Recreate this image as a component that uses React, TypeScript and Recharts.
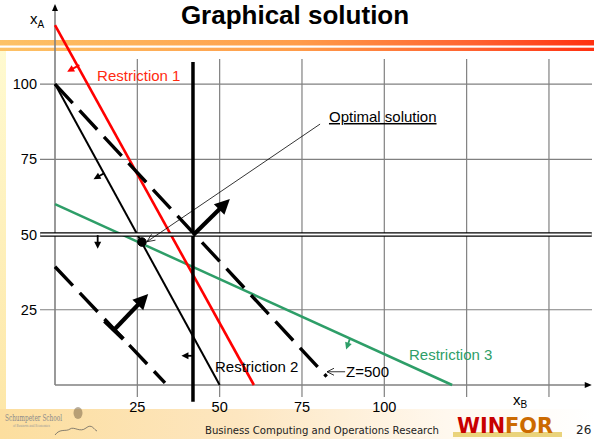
import React from 'react';
import { ComposedChart, Line, XAxis, YAxis, ReferenceLine, ReferenceDot } from 'recharts';

const W = 594;
const H = 439;
const X_DOMAIN: [number, number] = [-4.555, 163.07];
const Y_DOMAIN: [number, number] = [-5.65, 126.6];

// tick labels / grid
const xTicks = [25, 50, 75, 100];
const yTicks = [25, 50, 75, 100];
const gridX = [25, 50, 75, 100, 125, 150];
const gridY = [25, 50, 75, 100];
const gridXRange = [-4, 108.3];
const gridYRange = [-4.555, 163.07];

// series (xB, xA)
const axisB = [{ xB: 0, xA: 0 }, { xB: 161, xA: 0 }];
const axisA = [{ xB: 0, xA: 0 }, { xB: 0, xA: 125 }];
const restriction1 = [{ xB: 0, xA: 119.6 }, { xB: 60.4, xA: 0 }];
const restriction2 = [{ xB: 0, xA: 100 }, { xB: 50, xA: 0 }];
const restriction3 = [{ xB: 0, xA: 60.1 }, { xB: 120.6, xA: 0 }];
const isoZ500 = [{ xB: 0, xA: 100 }, { xB: 82.5, xA: 2.8 }];
const isoLow = [{ xB: 0, xA: 39.3 }, { xB: 33.4, xA: 0.7 }];
const boundB = [{ xB: 41.9, xA: 107.3 }, { xB: 41.9, xA: -5.6 }];
const boundA = [{ xB: -4.5, xA: 50 }, { xB: 163, xA: 50 }];
const optimum = { xB: 26.4, xA: 47.5 };

// arrows [from, to]
const axisBHead = [{ xB: 158, xA: 0 }, { xB: 163, xA: 0 }];
const axisAHead = [{ xB: 0, xA: 122 }, { xB: 0, xA: 126.6 }];
const improveArrow = [{ xB: 41.9, xA: 49.8 }, { xB: 53.1, xA: 61.8 }];
const startArrow = [{ xB: 17.9, xA: 18.3 }, { xB: 28.3, xA: 30.2 }];
const arrowR1 = [{ xB: 7.4, xA: 106.3 }, { xB: 3.7, xA: 104.1 }];
const arrowR2 = [{ xB: 15.0, xA: 70.4 }, { xB: 11.7, xA: 68.4 }];
const arrowA50 = [{ xB: 12.96, xA: 49.8 }, { xB: 12.96, xA: 45.3 }];
const arrowB42 = [{ xB: 41.9, xA: 9.7 }, { xB: 38.4, xA: 9.7 }];
const arrowR3 = [{ xB: 89.6, xA: 15.5 }, { xB: 88.4, xA: 11.8 }];
const pointerOptimum = [{ xB: 80.5, xA: 86.7 }, { xB: 27.9, xA: 47.6 }];
const pointerZ = [{ xB: 88.1, xA: 4.4 }, { xB: 82.6, xA: 4.4 }];

// labels
const labels = [
  { text: 'Restriction 1', xB: 12.77, xA: 101.0, color: '#FF2A10', underline: false },
  { text: 'Restriction 2', xB: 48.6, xA: 4.3, color: '#000000', underline: false },
  { text: 'Restriction 3', xB: 107.5, xA: 8.3, color: '#2E9E68', underline: false },
  { text: 'Optimal solution', xB: 83.2, xA: 87.4, color: '#000000', underline: true },
  { text: 'Z=500', xB: 88.4, xA: 2.8, color: '#000000', underline: false },
];
const axisLabels = [
  { main: 'x', sub: 'A', xB: -7.6, xA: 119.9 },
  { main: 'x', sub: 'B', xB: 139.1, xA: -6.6 },
];

const FONT = '"Liberation Sans", Arial, sans-serif';

type ArrowStyle = {
  color: string;
  width: number;
  head: number;
  headW: number;
  open?: boolean;
  tbar?: number;
  headOnly?: boolean;
};

function makeArrow(s: ArrowStyle) {
  return (p: any) => {
    const x1 = Number(p.x1), y1 = Number(p.y1), x2 = Number(p.x2), y2 = Number(p.y2);
    const dx = x2 - x1, dy = y2 - y1;
    const len = Math.hypot(dx, dy) || 1;
    const ux = dx / len, uy = dy / len;
    const nx = -uy, ny = ux;
    const bx = x2 - ux * s.head, by = y2 - uy * s.head;
    const hw = s.headW / 2;
    const left = `${bx + nx * hw},${by + ny * hw}`;
    const right = `${bx - nx * hw},${by - ny * hw}`;
    const ex = s.open ? x2 : bx + ux * 1;
    const ey = s.open ? y2 : by + uy * 1;
    return (
      <g>
        {!s.headOnly && (
          <line x1={x1} y1={y1} x2={ex} y2={ey} stroke={s.color} strokeWidth={s.width} />
        )}
        {s.open ? (
          <polyline points={`${left} ${x2},${y2} ${right}`} fill="none" stroke={s.color} strokeWidth={s.width} />
        ) : (
          <polygon points={`${left} ${x2},${y2} ${right}`} fill={s.color} />
        )}
        {s.tbar ? (
          <line
            x1={x1 + (nx * s.tbar) / 2}
            y1={y1 + (ny * s.tbar) / 2}
            x2={x1 - (nx * s.tbar) / 2}
            y2={y1 - (ny * s.tbar) / 2}
            stroke={s.color}
            strokeWidth={s.width}
          />
        ) : null}
      </g>
    );
  };
}

const seg = (d: { xB: number; xA: number }[]) => d.map((p) => ({ x: p.xB, y: p.xA }));

const arrowDefs: { data: { xB: number; xA: number }[]; style: ArrowStyle }[] = [
  { data: axisBHead, style: { color: '#000', width: 1, head: 7, headW: 6, headOnly: true } },
  { data: axisAHead, style: { color: '#000', width: 1, head: 7, headW: 6, headOnly: true } },
  { data: improveArrow, style: { color: '#000', width: 4.2, head: 15, headW: 15 } },
  { data: startArrow, style: { color: '#000', width: 4.2, head: 15, headW: 15, tbar: 26 } },
  { data: arrowR1, style: { color: '#FF0000', width: 1.8, head: 7, headW: 7 } },
  { data: arrowR2, style: { color: '#000', width: 1.8, head: 7, headW: 7 } },
  { data: arrowA50, style: { color: '#000', width: 1.8, head: 7, headW: 7 } },
  { data: arrowB42, style: { color: '#000', width: 1.8, head: 7, headW: 7 } },
  { data: arrowR3, style: { color: '#2E9E68', width: 1.8, head: 7, headW: 7 } },
  { data: pointerOptimum, style: { color: '#000', width: 0.8, head: 8, headW: 7, open: true } },
  { data: pointerZ, style: { color: '#000', width: 0.8, head: 7, headW: 7, open: true } },
];

export default function App() {
  return (
    <div style={{ position: 'absolute', left: 0, top: 0, width: W, height: H, background: '#fff', overflow: 'hidden' }}>
      <svg width={W} height={H} style={{ position: 'absolute', left: 0, top: 0 }}>
        <defs>
          <linearGradient id="barGrad" x1="0" x2="1" y1="0" y2="0">
            <stop offset="0" stopColor="#FDC266" />
            <stop offset="0.5" stopColor="#FF9C4A" />
            <stop offset="0.8" stopColor="#FF6230" />
            <stop offset="1" stopColor="#FF3010" />
          </linearGradient>
          <linearGradient id="footGrad" x1="0" x2="1" y1="0" y2="0">
            <stop offset="0" stopColor="#FCDE9E" />
            <stop offset="0.4" stopColor="#FDE6C0" />
            <stop offset="0.75" stopColor="#FFF8EE" />
            <stop offset="1" stopColor="#FFFFFF" />
          </linearGradient>
          <linearGradient id="stripGrad" x1="0" x2="0" y1="0" y2="1">
            <stop offset="0" stopColor="#FFFAD0" />
            <stop offset="1" stopColor="#FDE7A8" />
          </linearGradient>
        </defs>
        <rect x={0} y={40} width={W} height={5.5} fill="url(#barGrad)" />
        <rect x={0} y={47.7} width={W} height={3.3} fill="url(#barGrad)" />
        <rect x={0} y={51} width={6} height={358} fill="url(#stripGrad)" />
        <rect x={0} y={409} width={W} height={30} fill="url(#footGrad)" />
        <text x={295} y={23.5} textAnchor="middle" fontFamily={FONT} fontWeight="bold" fontSize={26} fill="#000">
          Graphical solution
        </text>
        <text x={5} y={421} fontFamily='"DejaVu Serif", serif' fontSize={8.4} fill="#8a8a8a" textLength={57} lengthAdjust="spacingAndGlyphs">
          Schumpeter School
        </text>
        <text x={13} y={426.5} fontFamily='"DejaVu Serif", serif' fontSize={4} fill="#9a9a9a" textLength={37} lengthAdjust="spacingAndGlyphs">
          of Business and Economics
        </text>
        <ellipse cx={78} cy={413} rx={4.5} ry={6} fill="#7d6a4a" opacity={0.55} />
        <path d="M55,435 C60,428 66,432 70,429 S80,433 86,428 S94,430 97,431" fill="none" stroke="#555" strokeWidth={0.7} />
        <text x={205} y={434} fontFamily='"DejaVu Sans", Verdana, sans-serif' fontSize={10} fill="#222" textLength={234} lengthAdjust="spacingAndGlyphs">
          Business Computing and Operations Research
        </text>
        <rect x={453} y={432} width={109} height={5} fill="#EAD37C" />
        <text x={457} y={433} fontFamily='"DejaVu Sans", Verdana, sans-serif' fontWeight="bold" fontSize={21} textLength={96} lengthAdjust="spacingAndGlyphs">
          <tspan fill="#C80000">WIN</tspan>
          <tspan fill="#CC6A00">FOR</tspan>
        </text>
        <text x={576} y={434} fontFamily='"DejaVu Sans", Verdana, sans-serif' fontSize={12} fill="#222">
          26
        </text>
      </svg>
      <div style={{ position: 'absolute', left: 0, top: 0 }}>
        <ComposedChart width={W} height={H} margin={{ top: 4, right: 2, bottom: 0, left: 0 }}>
          <XAxis
            type="number"
            dataKey="xB"
            domain={X_DOMAIN}
            allowDataOverflow
            ticks={xTicks}
            interval={0}
            height={37}
            axisLine={false}
            tickLine={false}
            tickSize={0}
            tickMargin={0}
            tick={{ fill: '#000', fontSize: 14.5, fontFamily: FONT }}
          />
          <YAxis
            type="number"
            domain={Y_DOMAIN}
            allowDataOverflow
            ticks={yTicks}
            interval={0}
            width={40}
            axisLine={false}
            tickLine={false}
            tickSize={0}
            tickMargin={3}
            tick={{ fill: '#000', fontSize: 14.5, fontFamily: FONT }}
          />
          {gridX.map((g) => (
            <Line
              key={'gx' + g}
              data={gridXRange.map((v) => ({ xB: g, xA: v }))}
              dataKey="xA"
              stroke="#808080"
              strokeWidth={1.2}
              dot={false}
              isAnimationActive={false}
            />
          ))}
          {gridY.map((g) => (
            <Line
              key={'gy' + g}
              data={gridYRange.map((v) => ({ xB: v, xA: g }))}
              dataKey="xA"
              stroke="#808080"
              strokeWidth={1.2}
              dot={false}
              isAnimationActive={false}
            />
          ))}
          <Line data={axisB} dataKey="xA" stroke="#808080" strokeWidth={1.6} dot={false} isAnimationActive={false} />
          <Line data={axisA} dataKey="xA" stroke="#808080" strokeWidth={1.6} dot={false} isAnimationActive={false} />
          <Line data={restriction3} dataKey="xA" stroke="#2E9E68" strokeWidth={2.5} dot={false} isAnimationActive={false} />
          <Line data={restriction2} dataKey="xA" stroke="#000" strokeWidth={2} dot={false} isAnimationActive={false} />
          <Line data={restriction1} dataKey="xA" stroke="#FF0000" strokeWidth={2.6} dot={false} isAnimationActive={false} />
          <Line data={isoZ500} dataKey="xA" stroke="#000" strokeWidth={3.4} strokeDasharray="26 10" dot={false} isAnimationActive={false} />
          <Line data={isoLow} dataKey="xA" stroke="#000" strokeWidth={3.4} strokeDasharray="26 10" dot={false} isAnimationActive={false} />
          <Line data={boundB} dataKey="xA" stroke="#000" strokeWidth={3.5} dot={false} isAnimationActive={false} />
          <Line data={boundA} dataKey="xA" stroke="#000" strokeWidth={4.6} dot={false} isAnimationActive={false} />
          <Line data={boundA} dataKey="xA" stroke="#fff" strokeWidth={1.8} dot={false} isAnimationActive={false} />
          <ReferenceDot x={optimum.xB} y={optimum.xA} r={4.3} fill="#000" stroke="#000" ifOverflow="visible" />
          {arrowDefs.map((a, i) => (
            <ReferenceLine key={'ar' + i} segment={seg(a.data)} ifOverflow="visible" stroke={a.style.color} shape={makeArrow(a.style)} />
          ))}
          {labels.map((l) => (
            <ReferenceDot
              key={l.text}
              x={l.xB}
              y={l.xA}
              r={1}
              ifOverflow="visible"
              shape={(p: any) => (
                <text x={p.cx} y={p.cy} fill={l.color} fontFamily={FONT} fontSize={15} textDecoration={l.underline ? 'underline' : undefined}>
                  {l.text}
                </text>
              )}
            />
          ))}
          {axisLabels.map((l) => (
            <ReferenceDot
              key={l.sub}
              x={l.xB}
              y={l.xA}
              r={1}
              ifOverflow="visible"
              shape={(p: any) => (
                <text x={p.cx} y={p.cy} fill="#000" fontFamily={FONT} fontSize={15}>
                  {l.main}
                  <tspan fontSize={10} dy={3.5}>{l.sub}</tspan>
                </text>
              )}
            />
          ))}
        </ComposedChart>
      </div>
    </div>
  );
}
